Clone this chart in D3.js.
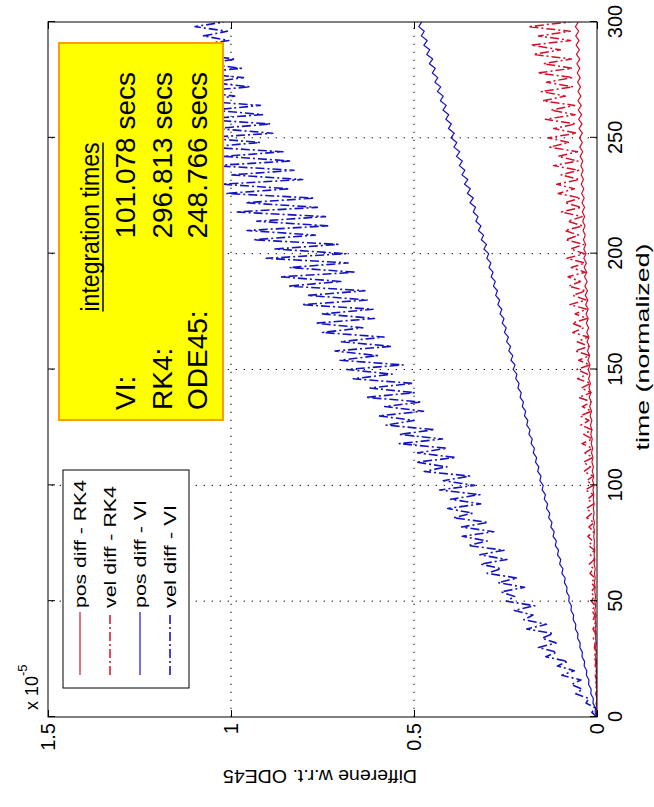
<!DOCTYPE html>
<html><head><meta charset="utf-8">
<script src="https://cdn.jsdelivr.net/npm/d3@7"></script>
<style>body{margin:0;background:#fff}svg{display:block}text{font-family:"Liberation Sans",Arial,Helvetica,sans-serif}</style>
</head><body><svg id="c" width="654" height="807"></svg>
<script>
// sample times (normalized)
const time = [0,2,4,6,8,10,12,14,16,18,20,22,24,26,28,30,32,34,36,38,40,42,44,46,48,50,52,54,56,58,60,62,64,66,68,70,72,74,76,78,80,82,84,86,88,90,92,94,96,98,100,102,104,106,108,110,112,114,116,118,120,122,124,126,128,130,132,134,136,138,140,142,144,146,148,150,152,154,156,158,160,162,164,166,168,170,172,174,176,178,180,182,184,186,188,190,192,194,196,198,200,202,204,206,208,210,212,214,216,218,220,222,224,226,228,230,232,234,236,238,240,242,244,246,248,250,252,254,256,258,260,262,264,266,268,270,272,274,276,278,280,282,284,286,288,290,292,294,296,298,300];
// values in thousandths of the axis unit (axis unit = 1e-5)
const posRK4 = [0,1,0,2,0,2,0,2,1,3,1,3,1,4,2,4,2,4,3,5,3,5,3,6,4,6,4,6,5,7,5,7,5,8,6,8,6,8,7,9,7,9,7,10,8,10,8,10,9,11,8,12,9,13,10,14,11,15,12,16,13,17,14,18,14,19,15,20,16,21,17,22,18,23,19,24,19,25,20,26,21,27,22,28,23,29,24,30,24,31,25,32,26,33,27,34,28,35,29,36,30,36,31,37,32,38,33,39,34,40,34,41,35,42,36,43,37,43,38,44,39,46,39,47,40,48,40,49,41,50,42,51,43,52,44,52,45,53,46,54,47,55,47,56,48,57,49,58,50,59,51];
const velRK4 = [0,1,0,2,0,3,1,4,1,5,2,5,3,8,3,7,5,10,4,11,4,10,6,14,5,15,8,16,6,15,6,19,10,21,7,18,7,23,12,25,8,22,8,28,14,29,9,26,10,32,10,28,11,36,18,37,12,33,13,41,13,36,14,44,22,46,15,40,16,50,16,43,17,53,26,55,19,50,20,60,22,54,24,66,36,68,27,60,28,74,30,66,31,77,45,79,32,70,33,82,34,72,36,86,50,88,39,80,41,97,43,88,45,106,62,110,48,98,50,119,52,106,53,129,76,134,56,118,58,141,60,126,61,148,86,152,65,138,66,162,68,146,70,174,100,180,72,160,73,188,74];
const posVI = [0,5,4,11,10,17,16,23,22,29,28,35,34,41,40,47,46,53,52,59,58,65,64,71,70,77,76,83,82,89,87,96,93,102,99,108,105,114,111,120,117,126,123,132,129,138,135,144,141,150,147,156,153,162,159,168,165,174,171,180,177,186,183,192,189,198,195,204,201,210,207,216,213,222,219,229,224,235,230,241,236,247,242,253,248,259,254,265,260,271,266,277,272,283,278,289,284,295,290,301,296,309,302,316,310,324,317,331,325,338,332,347,338,354,346,362,353,369,361,376,368,384,375,391,383,399,390,406,398,413,405,421,412,428,420,436,427,443,435,450,442,458,449,465,457,473,464,480,472,487,479];
const velVI = [0,14,6,30,22,58,40,70,44,96,62,108,80,140,110,160,112,150,120,192,138,200,175,226,170,248,225,262,198,270,218,300,262,318,246,320,254,352,300,368,282,370,298,392,340,408,318,400,320,430,334,420,348,472,410,494,386,490,410,540,422,540,444,576,500,596,474,580,480,632,498,620,504,666,560,684,530,702,600,716,562,700,582,750,640,770,608,750,612,806,628,790,634,844,700,864,660,840,680,904,686,880,708,938,770,956,736,930,742,986,764,960,772,1014,840,1024,804,1000,828,1048,836,1020,858,1066,920,1076,886,1040,892,1084,914,1050,920,1092,990,1096,948,1060,966,1098,972,1070,988,1096,1040,1098,1006,1075,1010,1098,1020];

const xTicks = [0,50,100,150,200,250,300];
const yTicks = [0,500,1000,1500];
const yTickLabels = ["0","0.5","1","1.5"];
const seriesNames = ["pos diff - RK4","vel diff - RK4","pos diff - VI","vel diff - VI"];
const timingTitle = "integration times";
const timingLabels = ["VI:","RK4:","ODE45:"];
const timingValues = ["101.078 secs","296.813 secs","248.766 secs"];

const RED = "#d2102a", BLUE = "#1414c0";
const series = [
  {name: seriesNames[0], values: posRK4, color: RED, dash: null, w: 1.2},
  {name: seriesNames[1], values: velRK4, color: RED, dash: "9,3,2,3", w: 1.5},
  {name: seriesNames[2], values: posVI, color: BLUE, dash: null, w: 1.2},
  {name: seriesNames[3], values: velVI, color: BLUE, dash: "9,3,2,3", w: 1.6}
];

// the whole figure is drawn in an unrotated frame and turned 90° counter-clockwise
const W = 807, H = 654;
const m = {l: 90, r: 22, t: 48, b: 57};
const svg = d3.select("#c");
const g = svg.append("g").attr("transform", `translate(0,${W}) rotate(-90)`);
const x = d3.scaleLinear().domain([0, 300]).range([m.l, W - m.r]);
const y = d3.scaleLinear().domain([0, 1500]).range([H - m.b, m.t]);

g.append("defs").append("clipPath").attr("id", "clip")
  .append("rect").attr("x", m.l).attr("y", m.t).attr("width", W - m.l - m.r).attr("height", H - m.t - m.b);

// grid
const grid = g.append("g").attr("stroke", "#000").attr("stroke-width", 1).attr("stroke-dasharray", "1.3,6.7");
grid.selectAll(".gx").data(xTicks.slice(1, -1)).join("line")
  .attr("x1", d => x(d)).attr("x2", d => x(d)).attr("y1", H - m.b).attr("y2", m.t);
grid.selectAll(".gy").data(yTicks.slice(1, -1)).join("line")
  .attr("y1", d => y(d)).attr("y2", d => y(d)).attr("x1", m.l).attr("x2", W - m.r);

// data lines
const line = d3.line().x((d, i) => x(time[i])).y(d => y(d));
const lines = g.append("g").attr("clip-path", "url(#clip)");
series.forEach(s => {
  lines.append("path").attr("d", line(s.values)).attr("fill", "none")
    .attr("stroke", s.color).attr("stroke-width", s.w)
    .attr("stroke-dasharray", s.dash).attr("stroke-linejoin", "round");
});

// axes (ticks inside on all four sides)
function styleAxis(sel) {
  sel.select(".domain").remove();
  sel.selectAll(".tick line").attr("stroke", "#000");
  sel.selectAll("text").attr("fill", "#000").style("font-size", "20px")
    .style("font-family", '"Liberation Sans",Arial,sans-serif');
}
g.append("g").attr("transform", `translate(0,${H - m.b})`)
  .call(d3.axisBottom(x).tickValues(xTicks).tickSizeInner(-7).tickSizeOuter(0).tickPadding(11)).call(styleAxis);
g.append("g").attr("transform", `translate(0,${m.t})`)
  .call(d3.axisTop(x).tickValues(xTicks).tickSizeInner(-7).tickSizeOuter(0).tickFormat(() => "")).call(styleAxis);
g.append("g").attr("transform", `translate(${m.l},0)`)
  .call(d3.axisLeft(y).tickValues(yTicks).tickFormat((d, i) => yTickLabels[i]).tickSizeInner(-7).tickSizeOuter(0).tickPadding(6)).call(styleAxis);
g.append("g").attr("transform", `translate(${W - m.r},0)`)
  .call(d3.axisRight(y).tickValues(yTicks).tickSizeInner(-7).tickSizeOuter(0).tickFormat(() => "")).call(styleAxis);
g.append("rect").attr("x", m.l).attr("y", m.t).attr("width", W - m.l - m.r).attr("height", H - m.t - m.b)
  .attr("fill", "none").attr("stroke", "#000").attr("stroke-width", 1);

// exponent label
const ex = g.append("text").attr("x", 97).attr("y", 38).style("font-size", "18px").attr("fill", "#000");
ex.append("tspan").text("x 10");
ex.append("tspan").attr("dy", -11).style("font-size", "13px").text("-5");

// axis labels
g.append("text").attr("x", 460).attr("y", 649).attr("text-anchor", "middle")
  .style("font-size", "18px").attr("textLength", 207).attr("lengthAdjust", "spacingAndGlyphs")
  .text("time (normalized)");
g.append("text").attr("transform", "translate(37,320) rotate(-90)").attr("text-anchor", "middle")
  .style("font-size", "19px").attr("textLength", 194).attr("lengthAdjust", "spacingAndGlyphs")
  .text("Differene w.r.t. ODE45");

// legend
const lg = g.append("g");
lg.append("rect").attr("x", 119).attr("y", 63).attr("width", 218).attr("height", 126)
  .attr("fill", "#fff").attr("stroke", "#000").attr("stroke-width", 1);
const legLen = [128, 122, 108, 103];
series.forEach((s, i) => {
  const cy = 80 + i * 30;
  lg.append("line").attr("x1", 132).attr("x2", 195).attr("y1", cy).attr("y2", cy)
    .attr("stroke", s.color).attr("stroke-width", s.w).attr("stroke-dasharray", s.dash);
  lg.append("text").attr("x", 199).attr("y", cy + 6).style("font-size", "16px")
    .attr("textLength", legLen[i]).attr("lengthAdjust", "spacingAndGlyphs").text(s.name);
});

// integration-time box
const bx = g.append("g");
bx.append("rect").attr("x", 387).attr("y", 59).attr("width", 377).attr("height", 164)
  .attr("fill", "#ffff00").attr("stroke", "#ff9a00").attr("stroke-width", 2);
bx.append("text").attr("x", 580).attr("y", 99).attr("text-anchor", "middle").style("font-size", "26px")
  .attr("textLength", 169).attr("lengthAdjust", "spacingAndGlyphs").text(timingTitle);
bx.append("line").attr("x1", 495.5).attr("x2", 664.5).attr("y1", 103).attr("y2", 103)
  .attr("stroke", "#000").attr("stroke-width", 1.5);
const rowY = [135, 172, 207];
timingLabels.forEach((t, i) => {
  bx.append("text").attr("x", 397).attr("y", rowY[i]).style("font-size", "28px").text(t);
  bx.append("text").attr("x", 735).attr("y", rowY[i]).attr("text-anchor", "end").style("font-size", "28px").text(timingValues[i]);
});
</script></body></html>
